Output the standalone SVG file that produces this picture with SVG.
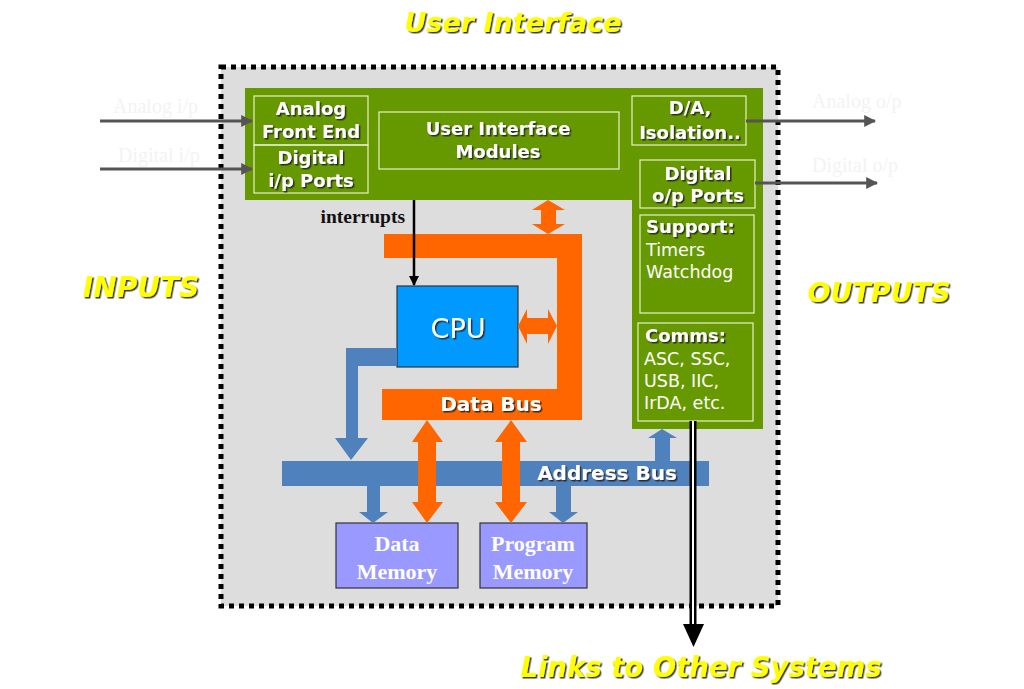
<svg xmlns="http://www.w3.org/2000/svg" width="1024" height="689" viewBox="0 0 1024 689">
<defs>
<filter id="sh" x="-10%" y="-20%" width="130%" height="150%">
<feDropShadow dx="1.5" dy="1.5" stdDeviation="0.4" flood-color="#222" flood-opacity="0.9"/>
</filter>
<marker id="ga" viewBox="0 0 10 10" refX="9" refY="5" markerWidth="4" markerHeight="4" orient="auto" markerUnits="strokeWidth">
<path d="M0,0 L10,5 L0,10 z" fill="#555"/>
</marker>
<marker id="ka" viewBox="0 0 10 10" refX="9" refY="5" markerWidth="4" markerHeight="4" orient="auto" markerUnits="strokeWidth">
<path d="M0,0 L10,5 L0,10 z" fill="#000"/>
</marker>
</defs>
<style>
.big{font-family:"DejaVu Sans",Verdana,sans-serif;font-weight:bold;font-style:italic;fill:#ffff00;font-size:27px}
.gb{font-family:"DejaVu Sans",Verdana,sans-serif;font-weight:bold;fill:#fff;font-size:18px}
.bus{font-family:"DejaVu Sans",Verdana,sans-serif;font-weight:bold;fill:#fff;font-size:20px}
.gr{font-family:"DejaVu Sans",Verdana,sans-serif;fill:#fff;font-size:17.5px}
.box{fill:none;stroke:#e6f0cc;stroke-width:1.2}
.faint{font-family:"Liberation Serif","Times New Roman",serif;font-size:20px;fill:#f3f3f3}
.mem{fill:#9999ff;stroke:#333;stroke-width:1.2}
.memt{font-family:"Liberation Serif","Times New Roman",serif;font-weight:bold;font-size:22px;fill:#fff}
.org{fill:#ff6600}
.blu{fill:#4f81bd}
</style>
<rect width="1024" height="689" fill="#fff"/>
<g id="boundary">
<rect x="221" y="67" width="557" height="539" fill="#dddddd" stroke="#000" stroke-width="5" stroke-dasharray="5 5"/>
</g>
<g id="labels">
<text class="big" x="513" y="32" text-anchor="middle" filter="url(#sh)">User Interface</text>
<text class="big" x="141" y="297" text-anchor="middle" style="font-size:28px" filter="url(#sh)">INPUTS</text>
<text class="big" x="879" y="302" text-anchor="middle" filter="url(#sh)">OUTPUTS</text>
<text class="big" x="701" y="677" text-anchor="middle" style="font-size:27.5px" filter="url(#sh)">Links to Other Systems</text>
<text class="faint" x="113" y="113">Analog i/p</text>
<text class="faint" x="118" y="162">Digital i/p</text>
<text class="faint" x="812" y="108">Analog o/p</text>
<text class="faint" x="812" y="172">Digital o/p</text>
</g>
<g id="peripherals">
<path d="M245,88 H763 V429 H632 V200 H245 Z" fill="#669900"/>
</g>
<g id="analog-front-end">
<rect class="box" x="254" y="96" width="114" height="49"/>
<text class="gb" x="311" y="115" text-anchor="middle" filter="url(#sh)">Analog</text>
<text class="gb" x="311" y="138" text-anchor="middle" filter="url(#sh)">Front End</text>
</g>
<g id="digital-ip-ports">
<rect class="box" x="254" y="145" width="114" height="48"/>
<text class="gb" x="311" y="164" text-anchor="middle" filter="url(#sh)">Digital</text>
<text class="gb" x="311" y="187" text-anchor="middle" filter="url(#sh)">i/p Ports</text>
</g>
<g id="ui-modules">
<rect class="box" x="379" y="112" width="240" height="57"/>
<text class="gb" x="498" y="135" text-anchor="middle" filter="url(#sh)">User Interface</text>
<text class="gb" x="498" y="158" text-anchor="middle" filter="url(#sh)">Modules</text>
</g>
<g id="da-isolation">
<rect class="box" x="632" y="96" width="114" height="49"/>
<text class="gb" x="690" y="114" text-anchor="middle" filter="url(#sh)">D/A,</text>
<text class="gb" x="690" y="139" text-anchor="middle" filter="url(#sh)">Isolation..</text>
</g>
<g id="digital-op-ports">
<rect class="box" x="640" y="160" width="115" height="48"/>
<text class="gb" x="698" y="180" text-anchor="middle" filter="url(#sh)">Digital</text>
<text class="gb" x="698" y="202" text-anchor="middle" filter="url(#sh)">o/p Ports</text>
</g>
<g id="support">
<rect class="box" x="640" y="215" width="114" height="98"/>
<text class="gb" x="646" y="233" filter="url(#sh)">Support:</text>
<text class="gr" x="646" y="256">Timers</text>
<text class="gr" x="646" y="278">Watchdog</text>
</g>
<g id="comms">
<rect class="box" x="638" y="323" width="115" height="98"/>
<text class="gb" x="645" y="342" filter="url(#sh)">Comms:</text>
<text class="gr" x="644" y="365">ASC, SSC,</text>
<text class="gr" x="644" y="387">USB, IIC,</text>
<text class="gr" x="644" y="409">IrDA, etc.</text>
</g>
<g id="data-bus">
<path class="org" d="M384,234 H582 V420 H382 V389 H557 V258 H384 Z"/>
<text class="bus" x="491" y="411" text-anchor="middle" filter="url(#sh)">Data Bus</text>
</g>
<g id="address-bus">
<rect class="blu" x="282" y="461" width="427" height="25"/>
<text class="bus" x="607" y="480" text-anchor="middle" filter="url(#sh)">Address Bus</text>
</g>
<g id="cpu">
<rect x="397" y="286" width="121" height="81" fill="#0099ff" stroke="#333" stroke-width="1.2"/>
<text x="458" y="338" text-anchor="middle" font-family="'DejaVu Sans',Verdana,sans-serif" font-size="27" fill="#fff" filter="url(#sh)">CPU</text>
</g>
<g id="data-memory">
<rect class="mem" x="336" y="523" width="122" height="65"/>
<text class="memt" x="397" y="551" text-anchor="middle">Data</text>
<text class="memt" x="397" y="579" text-anchor="middle">Memory</text>
</g>
<g id="program-memory">
<rect class="mem" x="480" y="523" width="107" height="65"/>
<text class="memt" x="533" y="551" text-anchor="middle">Program</text>
<text class="memt" x="533" y="579" text-anchor="middle">Memory</text>
</g>
<g id="connectors">
<line x1="100" y1="121" x2="252" y2="121" stroke="#555" stroke-width="3" marker-end="url(#ga)"/>
<line x1="100" y1="169" x2="252" y2="169" stroke="#555" stroke-width="3" marker-end="url(#ga)"/>
<line x1="746" y1="121" x2="875" y2="121" stroke="#555" stroke-width="3" marker-end="url(#ga)"/>
<line x1="755" y1="183" x2="877" y2="183" stroke="#555" stroke-width="3" marker-end="url(#ga)"/>
<line x1="414" y1="200" x2="414" y2="285" stroke="#000" stroke-width="2.5" marker-end="url(#ka)"/>
<text x="405" y="223" text-anchor="end" font-family="'Liberation Serif','Times New Roman',serif" font-weight="bold" font-size="19.5" fill="#111">interrupts</text>
<path class="org" d="M548,200 L565,210 H556 V224 H565 L548,234 L532,224 H541 V210 H532 Z"/>
<path class="org" d="M518,326 L527,309 V318 H548 V309 L557,326 L548,344 V334 H527 V344 Z"/>
<path class="org" d="M427,420 L443,442 H436 V502 H443 L427,523 L412,502 H418 V442 H412 Z"/>
<path class="org" d="M511,420 L527,442 H520 V502 H527 L511,523 L495,502 H502 V442 H495 Z"/>
<path class="blu" d="M397,348 H346 V438 H335 L351,460 L368,438 H358 V366 H397 Z"/>
<path class="blu" d="M367,486 H380 V512 H388 L373,523 L359,512 H367 Z"/>
<path class="blu" d="M556,486 H571 V512 H578 L563,523 L549,512 H556 Z"/>
<path class="blu" d="M655,461 V438 H648 L662,429 L677,438 H670 V461 Z"/>
<rect x="689.5" y="421" width="7" height="204" fill="#000"/>
<rect x="692" y="421" width="2" height="204" fill="#fff"/>
<path d="M683,624 H704 L693.5,647 Z" fill="#000"/>
</g>
</svg>
